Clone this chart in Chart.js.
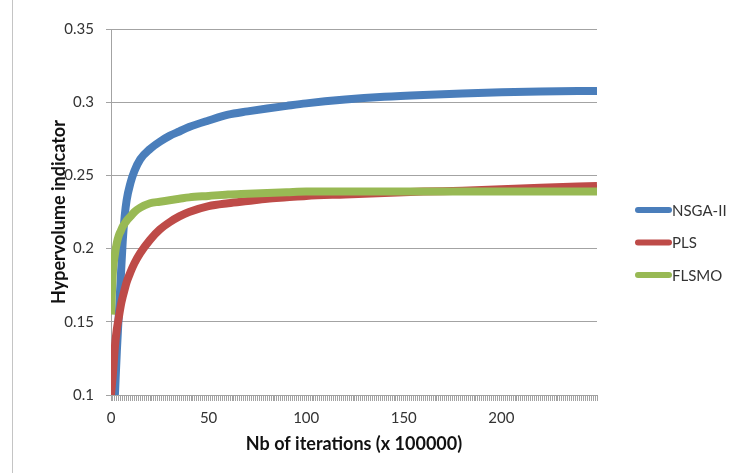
<!DOCTYPE html>
<html>
<head>
<meta charset="utf-8">
<script src="https://cdn.jsdelivr.net/npm/chart.js@4/dist/chart.umd.min.js"></script>
<style>
  html, body { margin: 0; padding: 0; background: #fff; }
  #wrap { width: 734px; height: 473px; }
</style>
</head>
<body>
<div id="wrap"><canvas id="hv" width="734" height="473"></canvas></div>
<script>
const iterations = [0, 1, 2, 3, 4, 5, 6, 7, 8, 10, 12, 15, 20, 25, 30, 35, 40, 50, 60, 70, 80, 90, 100, 120, 140, 160, 180, 200, 220, 249];

const nsga2 = [null, null, 0.100, 0.130, 0.155, 0.180, 0.205, 0.222, 0.233, 0.245, 0.253, 0.261, 0.268, 0.273, 0.277, 0.280, 0.283, 0.2875, 0.2915, 0.2937, 0.2957, 0.2975, 0.2992, 0.3018, 0.3037, 0.305, 0.306, 0.3068, 0.3073, 0.3077];
const pls = [0.100, 0.115, 0.133, 0.145, 0.153, 0.161, 0.167, 0.172, 0.177, 0.184, 0.190, 0.197, 0.206, 0.213, 0.218, 0.222, 0.225, 0.229, 0.231, 0.2325, 0.234, 0.235, 0.236, 0.237, 0.238, 0.239, 0.2395, 0.2405, 0.2415, 0.2428];
const flsmo = [0.155, 0.185, 0.196, 0.204, 0.209, 0.212, 0.215, 0.217, 0.219, 0.222, 0.225, 0.228, 0.231, 0.232, 0.233, 0.234, 0.235, 0.236, 0.237, 0.2375, 0.238, 0.2385, 0.239, 0.239, 0.239, 0.239, 0.239, 0.239, 0.239, 0.239];

const seriesNames = ["NSGA-II", "PLS", "FLSMO"];
const seriesColors = ["#4a7ebb", "#be4b48", "#98b954"];
const yTicks = [0.1, 0.15, 0.2, 0.25, 0.3, 0.35];
const xLabelEvery = 50;

const toPoints = vals => iterations.map((x, i) => ({ x: x, y: vals[i] }));

const FONT = "Lato, 'Open Sans', sans-serif";
const GRID = "#a3a3a3";

// excel-ish legend on the right and the frame line on the left
const sideLegend = {
  id: "sideLegend",
  beforeDraw(chart) {
    const ctx = chart.ctx;
    ctx.save();
    ctx.fillStyle = "#fff";
    ctx.fillRect(0, 0, chart.width, chart.height);
    ctx.strokeStyle = "#c4c4c4";
    ctx.lineWidth = 1;
    ctx.beginPath();
    ctx.moveTo(12.5, 0);
    ctx.lineTo(12.5, chart.height);
    ctx.stroke();
    ctx.restore();
  },
  afterDraw(chart) {
    const ctx = chart.ctx;
    const x0 = chart.chartArea.right + 41;
    ctx.save();
    ctx.font = "15px " + FONT;
    ctx.textBaseline = "middle";
    chart.data.datasets.forEach((ds, i) => {
      const y = 210 + i * 32.5;
      ctx.strokeStyle = ds.borderColor;
      ctx.lineWidth = 6;
      ctx.lineCap = "round";
      ctx.beginPath();
      ctx.moveTo(x0, y);
      ctx.lineTo(x0 + 31, y);
      ctx.stroke();
      ctx.fillStyle = "#333";
      ctx.fillText(ds.label, x0 + 34, y + 1);
    });
    ctx.restore();
  }
};

const datasets = [nsga2, pls, flsmo].map((vals, i) => ({
  label: seriesNames[i],
  data: toPoints(vals),
  borderColor: seriesColors[i],
  backgroundColor: seriesColors[i],
  borderWidth: 8,
  pointRadius: 0,
  cubicInterpolationMode: "monotone",
  spanGaps: false,
  order: 3 - i   // later series painted on top, like Excel
}));

new Chart(document.getElementById("hv"), {
  type: "line",
  data: { datasets: datasets },
  plugins: [sideLegend],
  options: {
    responsive: false,
    animation: false,
    events: [],
    layout: { padding: { left: 44, right: 137, top: 29, bottom: 14 } },
    plugins: {
      legend: { display: false },
      tooltip: { enabled: false }
    },
    scales: {
      x: {
        type: "linear",
        min: 0,
        max: 249,
        afterFit: s => { s.height = 473 - 14 - 395; },
        grid: { drawOnChartArea: false, drawTicks: true, tickLength: 6, color: GRID },
        border: { display: true, color: GRID },
        ticks: {
          stepSize: 1,
          autoSkip: false,
          maxRotation: 0,
          padding: 8,
          color: "#333",
          font: { family: FONT, size: 15 },
          callback: v => (v % xLabelEvery === 0 ? String(v) : "")
        },
        title: {
          display: true,
          text: "Nb of iterations (x 100000)",
          color: "#111",
          font: { family: FONT, size: 18, weight: "bold" }
        }
      },
      y: {
        min: yTicks[0],
        max: yTicks[yTicks.length - 1],
        afterFit: s => { s.width = 111 - 44; },
        afterBuildTicks: s => { s.ticks = yTicks.map(v => ({ value: v })); },
        grid: { color: GRID, tickLength: 5 },
        border: { display: true, color: GRID },
        ticks: {
          padding: 12,
          color: "#333",
          font: { family: FONT, size: 15 },
          callback: v => String(Number(v.toFixed(2)))
        },
        title: {
          display: true,
          text: "Hypervolume indicator",
          color: "#111",
          font: { family: FONT, size: 18, weight: "bold" }
        }
      }
    }
  }
});
</script>
</body>
</html>
